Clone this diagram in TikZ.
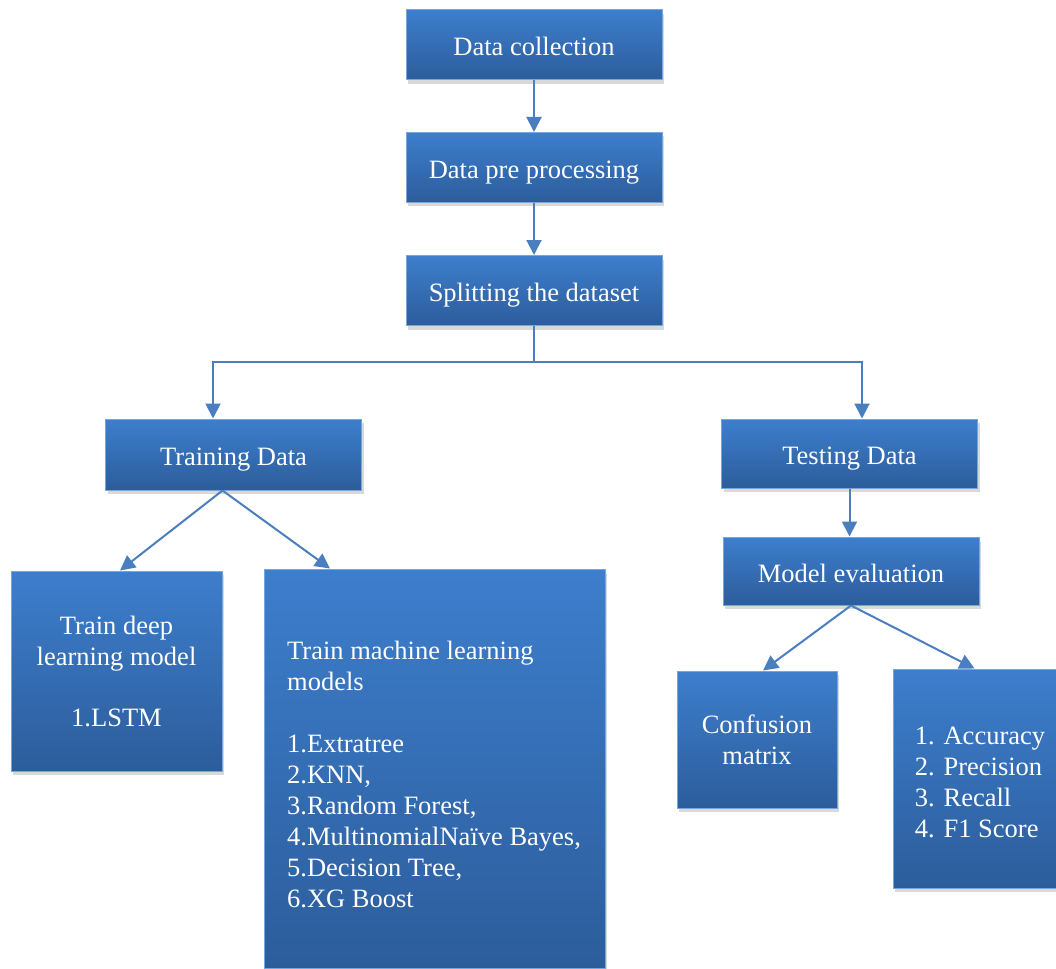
\documentclass[tikz,border=0pt]{standalone}
\usepackage{fontspec}
\setmainfont{Liberation Serif}
\usetikzlibrary{arrows.meta,shadows}
\definecolor{boxtop}{HTML}{3D7ECD}
\definecolor{boxbot}{HTML}{2C5D9B}
\definecolor{linkblue}{HTML}{4A7EBF}
\tikzset{
  flownode/.style = {align=center, inner sep=0pt, text=white,
    font=\fontsize{26.5}{31}\selectfont},
  fl_box/.style = {flownode, draw=boxtop!70!white, line width=1pt,
    top color=boxtop, bottom color=boxbot,
    drop shadow={shadow xshift=2pt, shadow yshift=-4pt, opacity=0.3}},% blue step box
  fl_w/.style = {fl_box, minimum width=256pt, minimum height=70pt,
    text height=24pt, text depth=2pt},% wide step box
  fl_txt/.style = {flownode, align=left},% free text on a box
  link/.style = {draw=linkblue, line width=2pt,
    -{Triangle[length=15pt,width=15pt]}}
}

\begin{document}
\begin{tikzpicture}[x=1pt,y=-1pt]
\useasboundingbox (0,0) rectangle (1056,968);
% main line
\node [fl_w] (dc) at (534,45) {Data collection};
\node [fl_w] (pre) at (534,167.5) {Data pre processing};
\node [fl_w] (split) at (534,290.5) {Splitting the dataset};
\node [fl_w, minimum height=71pt] (train) at (233.5,454.5) {Training Data};
\node [fl_w, minimum height=69pt] (test) at (849.5,453.5) {Testing Data};
\node [fl_w, minimum height=68pt] (eval) at (851,571) {Model evaluation};
% leaves
\node [fl_box, minimum width=211pt, minimum height=200pt] (deep) at (116.5,671)
  {Train deep\\learning model\\[30pt]1.LSTM};
\node [fl_box, minimum width=341pt, minimum height=399pt] (ml) at (434.5,768.5) {};
\node [fl_txt, anchor=north west] (mltext) at (287,641)
  {Train machine learning\\models\\[31pt]1.Extratree\\2.KNN,\\3.Random Forest,\\
   4.MultinomialNaïve Bayes,\\5.Decision Tree,\\6.XG Boost};
\node [fl_box, minimum width=160pt, minimum height=137pt] (conf) at (757,739.5)
  {Confusion\\matrix};
\node [fl_box, minimum width=163pt, minimum height=219pt] (metr) at (974.5,778.5) {};
\node [fl_txt] (metrtext) at (980,782)
  {1. Accuracy\\2. Precision\\3. Recall\\4. F1 Score};
% connectors
\coordinate (fork) at (534,362);
\draw [link] (dc) -- (pre);
\draw [link] (pre) -- (split);
\draw [link, -] (split) -- (fork);
\draw [link] (fork) -| ([xshift=-20.5pt]train.north);
\draw [link] (fork) -| ([xshift=12.5pt]test.north);
\draw [link] ([xshift=-11pt]train.south) -- ([xshift=3.5pt]deep.north);
\draw [link] ([xshift=-11pt]train.south) -- ([xshift=-104.5pt]ml.north);
\draw [link] (test.south) -- (test.south |- eval.north);
\draw [link] (eval.south) -- ([xshift=6pt]conf.north);
\draw [link] (eval.south) -- (metr.north);
\end{tikzpicture}
\end{document}
